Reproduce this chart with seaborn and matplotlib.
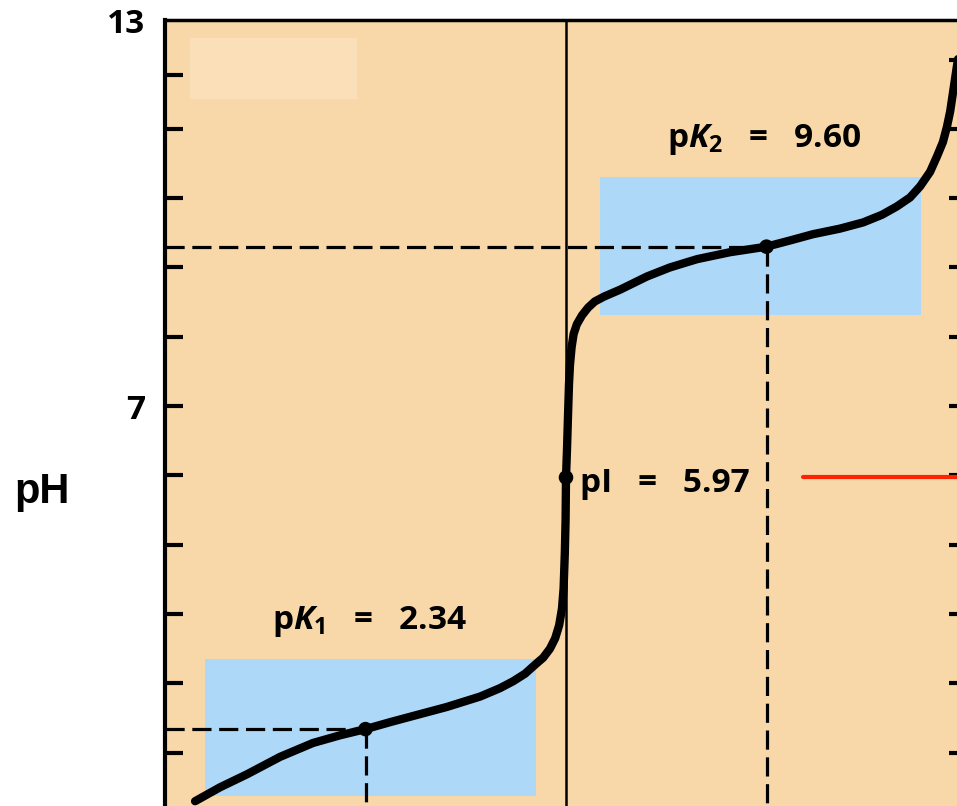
import numpy as np
import pandas as pd
import matplotlib
matplotlib.use("Agg")
import matplotlib.pyplot as plt
import seaborn as sns

# Titration curve (equivalents of OH-, pH)
eq_oh = [0.075, 0.137, 0.205, 0.287, 0.369, 0.436, 0.50, 0.561, 0.619, 0.703,
         0.786, 0.835, 0.868, 0.898, 0.923, 0.943, 0.960, 0.973, 0.983, 0.990,
         0.994, 0.997, 0.999, 1.0, 1.0025, 1.005, 1.0075, 1.010, 1.014, 1.019,
         1.027, 1.040, 1.055, 1.072, 1.095, 1.135, 1.202, 1.259, 1.327, 1.409,
         1.50, 1.559, 1.616, 1.683, 1.741, 1.788, 1.825, 1.858, 1.883, 1.908,
         1.925, 1.940, 1.950, 1.958, 1.965, 1.975, 1.983]
ph_vals = [1.30, 1.50, 1.69, 1.94, 2.14, 2.25, 2.34, 2.44, 2.53, 2.66,
           2.81, 2.93, 3.03, 3.14, 3.27, 3.37, 3.50, 3.65, 3.84, 4.08,
           4.37, 4.87, 5.37, 5.97, 6.38, 6.86, 7.32, 7.60, 7.85, 8.04,
           8.18, 8.31, 8.42, 8.51, 8.58, 8.68, 8.87, 9.00, 9.12, 9.22,
           9.30, 9.39, 9.48, 9.56, 9.65, 9.76, 9.88, 10.01, 10.17, 10.38,
           10.60, 10.81, 11.03, 11.25, 11.52, 11.91, 12.21]

# key points: (equivalents, drawn pH level, label)
key_eq = [0.5, 1.0, 1.5]
key_ph = [2.34, 5.97, 9.30]
key_labels = [r"p$\mathit{K}_{\mathrm{1}}$   =   2.34", "pI   =   5.97",
              r"p$\mathit{K}_{\mathrm{2}}$   =   9.60"]

# buffer regions (x0, x1, y0, y1)
buffer1 = [0.100, 0.925, 1.37, 3.35]
buffer2 = [1.085, 1.885, 8.31, 10.30]
blank_box = [0.062, 0.479, 11.43, 12.31]
red_line = [1.591, 2.05, 5.97]

left_ticks = [2, 3, 4, 5, 6, 7, 8, 9, 10, 11, 11.77, 12.57]
left_labels = ["", "", "", "", "", "7", "", "", "", "", "", "13"]
right_ticks = [2, 3, 4, 5, 6, 7, 8, 9, 10, 11, 12]

sns.set_style("white")
plt.rcParams["font.family"] = ["Open Sans", "DejaVu Sans"]
plt.rcParams["font.weight"] = "bold"
plt.rcParams["text.color"] = "black"
plt.rcParams["ytick.color"] = "black"
plt.rcParams["mathtext.fontset"] = "custom"
plt.rcParams["mathtext.rm"] = "Open Sans:bold"
plt.rcParams["mathtext.it"] = "Open Sans:italic:bold"

bg = "#F8D8A8"
blue = "#ADD8F8"

fig = plt.figure(figsize=(9.57, 8.06), dpi=100)
ax = fig.add_axes([165 / 957, -16 / 806, 802 / 957, 802 / 806])
ax.set_facecolor(bg)
ax.set_xlim(0, 2.0)
ax.set_ylim(1.0, 12.57)

for b, c in [(buffer1, blue), (buffer2, blue), (blank_box, "#FADFB8")]:
    ax.fill_between([b[0], b[1]], b[2], b[3], color=c, lw=0, zorder=1)

ax.plot([red_line[0], red_line[1]], [red_line[2]] * 2, color="#FF2200", lw=3, zorder=2)

dash = (0, (6.0, 2.4))
ax.axvline(key_eq[1], color="black", lw=1.8, zorder=2)
for i in [0, 2]:
    ax.plot([0, key_eq[i]], [key_ph[i]] * 2, color="black", lw=2.3, ls=dash, zorder=2)
    ax.plot([key_eq[i]] * 2, [key_ph[i], 0], color="black", lw=2.3, ls=dash, zorder=2)

curve = pd.DataFrame({"eq": eq_oh, "pH": ph_vals})
sns.lineplot(data=curve, x="eq", y="pH", color="black", lw=6, ax=ax, zorder=3,
             sort=False, solid_capstyle="round", solid_joinstyle="round")
sns.scatterplot(x=key_eq, y=key_ph, color="black", s=110, ax=ax, zorder=4,
                edgecolor="none")

ax.text(0.511, 3.79, key_labels[0], fontsize=24, ha="center", va="baseline",
        fontweight="bold", color="black")
ax.text(1.035, 5.76, key_labels[1], fontsize=24, ha="left", va="baseline",
        fontweight="bold", color="black")
ax.text(1.494, 10.74, key_labels[2], fontsize=24, ha="center", va="baseline",
        fontweight="bold", color="black")

ax.set_yticks(left_ticks)
ax.set_yticklabels(left_labels)
ax.set_xticks([])
ax.tick_params(axis="y", direction="in", length=13, width=3, pad=14,
               labelsize=24, left=True, colors="black")
for lab in ax.get_yticklabels():
    lab.set_fontweight("bold")
ax.yaxis.get_major_ticks()[-1].tick1line.set_visible(False)

sec = ax.secondary_yaxis("right")
sec.set_yticks(right_ticks)
sec.tick_params(direction="in", length=13, width=3, labelright=False, colors="black")
sec.spines["right"].set_linewidth(3)
sec.spines["right"].set_color("black")

for s in ax.spines.values():
    s.set_color("black")
ax.spines["left"].set_linewidth(3)
ax.spines["top"].set_linewidth(2.5)
ax.spines["right"].set_visible(False)
ax.set_xlabel("")
ax.set_ylabel("")

fig.text(42 / 957, 1 - 492 / 806, "pH", fontsize=30, fontweight="bold",
         family=["Liberation Sans", "DejaVu Sans"], ha="center", va="center",
         color="black")

fig.savefig("out.png", dpi=100)
